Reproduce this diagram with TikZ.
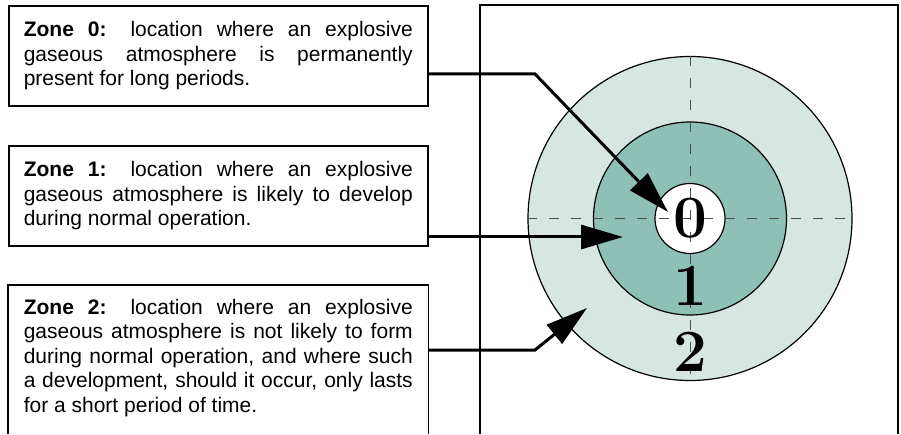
\documentclass[tikz,border=0pt]{standalone}
\usepackage{fontspec}
\setsansfont{Liberation Sans}
\usetikzlibrary{arrows.meta,positioning,calc}
\definecolor{zoneone}{RGB}{143,192,181}
\definecolor{zonetwo}{RGB}{214,230,225}
\tikzset{
  zonebox/.style={draw, line width=1.6pt, anchor=north west, text width=389pt,
    inner xsep=15pt, inner ysep=0pt, minimum height=100pt, align=justify,
    font=\sffamily\fontsize{21}{24.5}\selectfont},
  zonetext/.style={zonebox, draw=none, minimum height=0pt, inner ysep=13pt},
  pointer/.style={line width=3pt, -{Triangle[length=42pt,width=24pt]}},
  ring/.style={circle, draw, line width=1.2pt, inner sep=0pt},
  axis/.style={dash pattern=on 10pt off 12pt, line width=1pt, black!70},
  zonenum/.style={inner sep=0pt, font=\fontsize{60}{60}\selectfont\bfseries}
}

\begin{document}
\begin{tikzpicture}[x=1pt,y=1pt]
    \useasboundingbox (0,0) rectangle (901,434);
    \coordinate (ground) at (0,0);
    % text boxes
    \node[zonebox] (z0) at (8,429) {\textbf{Zone 0:} location where an explosive\linebreak
        gaseous atmosphere is permanently\linebreak present for long periods.};
    \node[zonebox] (z1) at (8,289) {\textbf{Zone 1:} location where an explosive\linebreak
        gaseous atmosphere is likely to develop\linebreak during normal operation.};
    \node[zonetext] (z2) at (8,149) {\textbf{Zone 2:} location where an explosive\linebreak
        gaseous atmosphere is not likely to form\linebreak during normal operation, and where such\linebreak
        a development, should it occur, only lasts\linebreak for a short period of time.};
    \draw[line width=1.6pt] (z2.north west |- ground) -- (z2.north west)
        -- (z2.north east) -- (z2.north east |- ground);
    % frame round the zones
    \coordinate (frame_nw) at (480,429);
    \coordinate (frame_ne) at (898,429);
    \draw[line width=1.6pt] (frame_nw |- ground) -- (frame_nw) -- (frame_ne) -- (frame_ne |- ground);
    % zones
    \node[ring, fill=zonetwo, minimum size=324pt] (ring2) at (690,215.5) {};
    \node[ring, fill=zoneone, minimum size=193pt] (ring1) at (ring2) {};
    \node[ring, fill=white, minimum size=70pt] (ring0) at (ring2) {};
    \draw[axis] (ring2.west) -- (ring2.east);
    \draw[axis] (ring2.north) -- (ring2.south);
    % zone numbers
    \node[zonenum] (n0) at (ring0) {0};
    \node[zonenum, below=12pt of ring0] (n1) {1};
    \node[zonenum, below=26pt of n1] (n2) {2};
    % pointers
    \coordinate (bend0) at (535,360);
    \coordinate (tip0) at (668,222);
    \coordinate (tip1) at (623,197);
    \coordinate (bend2) at (535,84);
    \coordinate (tip2) at (587,126);
    \draw[pointer] (z0.east |- bend0) -- (bend0) -- (tip0);
    \draw[pointer] (z1.east |- tip1) -- (tip1);
    \draw[pointer] (z2.east |- bend2) -- (bend2) -- (tip2);
\end{tikzpicture}
\end{document}
